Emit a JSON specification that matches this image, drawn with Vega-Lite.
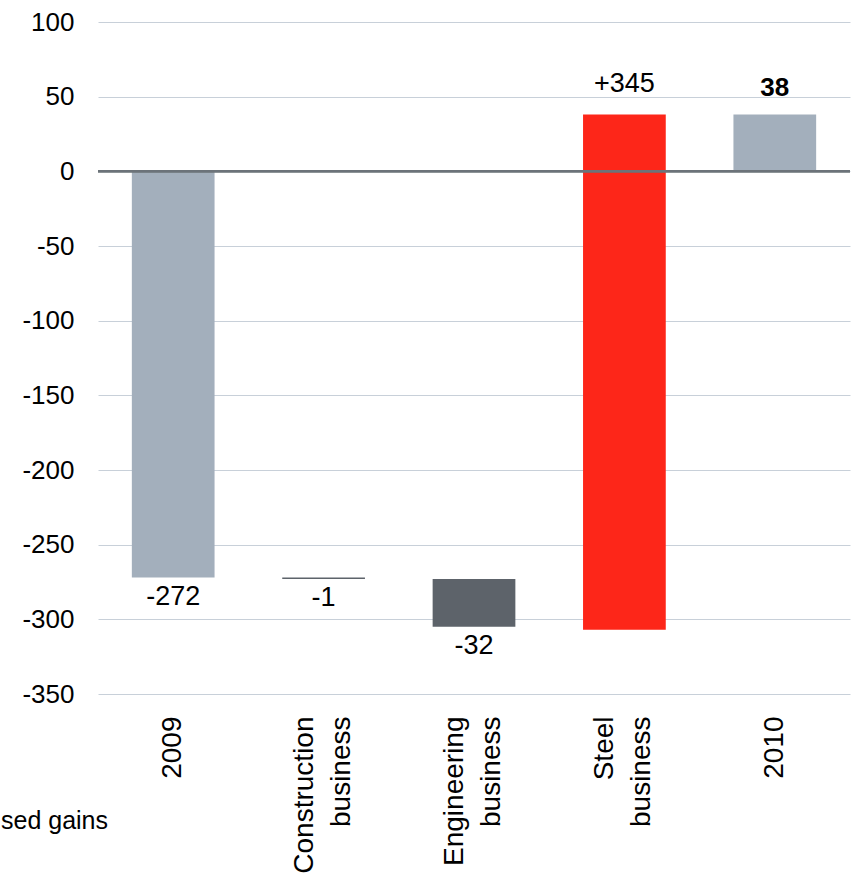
{
  "$schema": "https://vega.github.io/schema/vega-lite/v6.json",
  "autosize": "none",
  "width": 752,
  "height": 672,
  "padding": {"left": 98, "top": 22, "right": 4, "bottom": 184},
  "background": "white",
  "config": {
    "view": {"stroke": null},
    "font": "Liberation Sans"
  },
  "title": {
    "text": "sed gains",
    "orient": "bottom",
    "anchor": "start",
    "frame": "group",
    "dx": -97,
    "offset": -64,
    "fontSize": 25,
    "fontWeight": "normal",
    "color": "#000000",
    "font": "Liberation Sans"
  },
  "data": {
    "values": [
      {"cat": "2009", "low": -272, "high": 0, "label": "-272", "kind": "total", "side": "below"},
      {"cat": "Construction|business", "low": -273, "high": -272, "label": "-1", "kind": "neg", "side": "below"},
      {"cat": "Engineering|business", "low": -305, "high": -273, "label": "-32", "kind": "neg", "side": "below"},
      {"cat": "Steel|business", "low": -307, "high": 38, "label": "+345", "kind": "pos", "side": "above"},
      {"cat": "2010", "low": 0, "high": 38, "label": "38", "kind": "total", "side": "aboveBold"}
    ]
  },
  "encoding": {
    "x": {
      "field": "cat",
      "type": "nominal",
      "sort": null,
      "scale": {"paddingInner": 0.45, "paddingOuter": 0.225},
      "axis": {
        "title": null,
        "labelAngle": -90,
        "labelAlign": "right",
        "labelBaseline": "middle",
        "labelExpr": "split(datum.label, '|')",
        "labelLineHeight": 37,
        "labelFontSize": 28,
        "labelFont": "Liberation Sans",
        "labelColor": "#000000",
        "labelPadding": 22,
        "labelOffset": {"expr": "indexof(datum.value, '|') >= 0 ? -19 : 0"},
        "ticks": false,
        "domain": false,
        "grid": false
      }
    }
  },
  "layer": [
    {
      "mark": {"type": "bar"},
      "encoding": {
        "y": {
          "field": "low",
          "type": "quantitative",
          "scale": {"domain": [-350, 100], "nice": false, "zero": false},
          "axis": {
            "title": null,
            "values": [-350, -300, -250, -200, -150, -100, -50, 0, 50, 100],
            "labelExpr": "toString(datum.value)",
            "labelFontSize": 26,
            "labelFont": "Liberation Sans",
            "labelColor": "#000000",
            "labelPadding": 24,
            "ticks": false,
            "domain": false,
            "grid": true,
            "gridColor": "#c8d0d9",
            "gridWidth": 1
          }
        },
        "y2": {"field": "high"},
        "color": {
          "field": "kind",
          "type": "nominal",
          "scale": {"domain": ["total", "neg", "pos"], "range": ["#a3afbc", "#5d636a", "#fd2619"]},
          "legend": null
        }
      }
    },
    {
      "mark": {"type": "rule", "color": "#6c737a", "strokeWidth": 2},
      "encoding": {"y": {"datum": 0, "type": "quantitative"}, "x": {"value": 0}, "x2": {"value": 752}}
    },
    {
      "transform": [{"filter": "datum.side == 'below'"}],
      "mark": {"type": "text", "baseline": "top", "dy": 6, "fontSize": 27, "font": "Liberation Sans", "color": "#000000"},
      "encoding": {
        "y": {"field": "low", "type": "quantitative"},
        "text": {"field": "label"}
      }
    },
    {
      "transform": [{"filter": "datum.side == 'above'"}],
      "mark": {"type": "text", "baseline": "alphabetic", "dy": -23, "fontSize": 27, "font": "Liberation Sans", "color": "#000000"},
      "encoding": {
        "y": {"field": "high", "type": "quantitative"},
        "text": {"field": "label"}
      }
    },
    {
      "transform": [{"filter": "datum.side == 'aboveBold'"}],
      "mark": {"type": "text", "baseline": "alphabetic", "dy": -19, "fontSize": 26, "fontWeight": "bold", "font": "Liberation Sans", "color": "#000000"},
      "encoding": {
        "y": {"field": "high", "type": "quantitative"},
        "text": {"field": "label"}
      }
    }
  ]
}
